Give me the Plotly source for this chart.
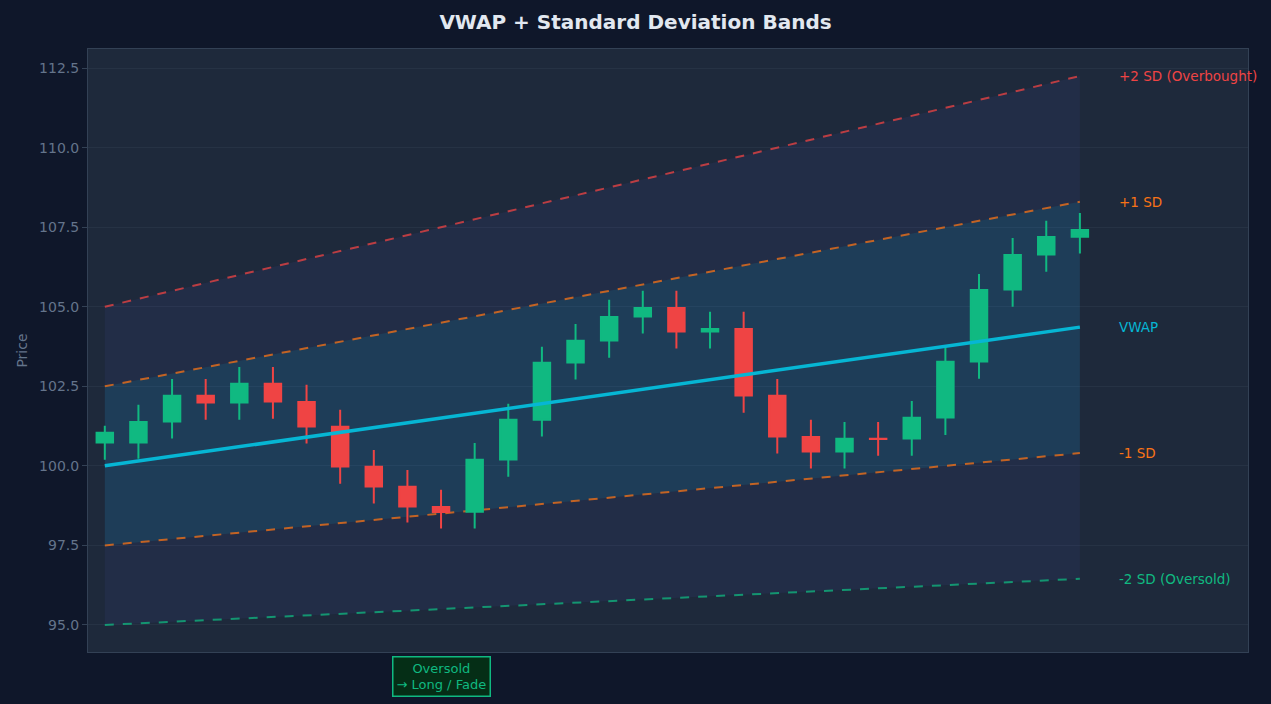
import plotly.graph_objects as go

# candles (bar index 0..29)
bars = list(range(30))
opens = [100.73, 100.73, 101.39, 102.20, 101.99, 102.58, 102.01, 101.23, 99.97, 99.34,
         98.71, 98.56, 100.20, 101.45, 103.25, 103.94, 104.69, 104.96, 104.22, 104.30,
         102.20, 100.91, 100.45, 100.85, 100.86, 101.52, 103.28, 105.54, 106.64, 107.20]
highs = [101.26, 101.92, 102.73, 102.73, 103.11, 103.11, 102.55, 101.76, 100.50, 99.87,
         99.25, 100.72, 101.95, 103.74, 104.46, 105.22, 105.50, 105.50, 104.84, 104.84,
         102.73, 101.45, 101.38, 101.38, 102.04, 103.73, 106.03, 107.16, 107.70, 107.95]
lows = [100.19, 100.22, 100.86, 101.45, 101.45, 101.48, 100.70, 99.44, 98.82, 98.22,
        98.03, 98.03, 99.66, 100.92, 102.71, 103.40, 104.16, 103.69, 103.69, 101.67,
        100.39, 99.92, 99.92, 100.32, 100.32, 100.97, 102.74, 105.00, 106.10, 106.67]
closes = [101.04, 101.38, 102.20, 101.99, 102.58, 102.02, 101.24, 99.98, 99.35, 98.72,
          98.55, 100.19, 101.45, 103.24, 103.93, 104.68, 104.96, 104.22, 104.30, 102.21,
          100.92, 100.45, 100.85, 100.84, 101.51, 103.27, 105.53, 106.63, 107.19, 107.41]

# straight bands: values at first and last bar
band_x = [0, 29]
vwap = [100.00, 104.36]
plus1 = [102.50, 108.30]
plus2 = [105.00, 112.25]
minus1 = [97.50, 100.40]
minus2 = [95.00, 96.45]

GREEN = "#10b981"
RED = "#ef4444"
ORANGE = "#f97316"
CYAN = "#06b6d4"

fig = go.Figure()

# fills (base axes, drawn below the candles)
fig.add_trace(go.Scatter(x=band_x, y=minus2, mode="lines", line=dict(width=0),
                         hoverinfo="skip", showlegend=False))
fig.add_trace(go.Scatter(x=band_x, y=plus2, mode="lines", line=dict(width=0),
                         fill="tonexty", fillcolor="rgba(99,102,241,0.07)",
                         hoverinfo="skip", showlegend=False))
fig.add_trace(go.Scatter(x=band_x, y=minus1, mode="lines", line=dict(width=0),
                         hoverinfo="skip", showlegend=False))
fig.add_trace(go.Scatter(x=band_x, y=plus1, mode="lines", line=dict(width=0),
                         fill="tonexty", fillcolor="rgba(6,182,212,0.12)",
                         hoverinfo="skip", showlegend=False))

# band lines
for ys, col in [(plus2, RED), (plus1, ORANGE), (minus1, ORANGE), (minus2, GREEN)]:
    fig.add_trace(go.Scatter(x=band_x, y=ys, mode="lines", opacity=0.75,
                             line=dict(color=col, width=2, dash="dash"),
                             showlegend=False))

# candles + vwap on an overlay so they sit above the fills
fig.add_trace(go.Candlestick(
    x=bars, open=opens, high=highs, low=lows, close=closes,
    xaxis="x2", yaxis="y2",
    increasing=dict(line=dict(color=GREEN, width=2), fillcolor=GREEN),
    decreasing=dict(line=dict(color=RED, width=2), fillcolor=RED),
    showlegend=False,
))

fig.add_trace(go.Scatter(x=band_x, y=vwap, mode="lines", xaxis="x2", yaxis="y2",
                         line=dict(color=CYAN, width=3.5), showlegend=False))

labels = [
    (plus2[1], "+2 SD (Overbought)", RED),
    (plus1[1], "+1 SD", ORANGE),
    (vwap[1], "VWAP", CYAN),
    (minus1[1], "-1 SD", ORANGE),
    (minus2[1], "-2 SD (Oversold)", GREEN),
]
for y, txt, col in labels:
    fig.add_annotation(x=30.1, y=y, text=txt, showarrow=False, xanchor="left",
                       font=dict(color=col, size=13.5, family="DejaVu Sans"))

fig.add_annotation(x=10, y=-0.04, yref="paper", yanchor="middle",
                   text="Oversold<br>→ Long / Fade", showarrow=False,
                   font=dict(color=GREEN, size=13, family="DejaVu Sans"),
                   bgcolor="#052e16", bordercolor=GREEN, borderwidth=1.5, borderpad=3)

x_range = [-0.5, 34]
y_range = [94.15, 113.1]

fig.update_layout(
    width=1271, height=704,
    title=dict(text="<b>VWAP + Standard Deviation Bands</b>", x=0.5, y=0.969,
               yanchor="middle",
               font=dict(size=20, color="#e2e8f0", family="DejaVu Sans")),
    paper_bgcolor="#0f172a",
    plot_bgcolor="#1e293b",
    margin=dict(l=88, r=23, t=49, b=52),
    font=dict(family="DejaVu Sans", color="#64748b", size=14),
    xaxis=dict(range=x_range, showticklabels=False, showgrid=False, zeroline=False,
               rangeslider=dict(visible=False), showline=True, linecolor="#334155",
               mirror=True),
    yaxis=dict(range=y_range, dtick=2.5, tickformat=".1f", showgrid=True,
               gridcolor="#263244", zeroline=False, showline=True, linecolor="#334155",
               mirror=True, ticks="outside", tickcolor="#334155", ticklen=5,
               title=dict(text="Price", standoff=8, font=dict(size=14, color="#64748b"))),
    xaxis2=dict(overlaying="x", range=x_range, visible=False,
                rangeslider=dict(visible=False)),
    yaxis2=dict(overlaying="y", range=y_range, visible=False),
)

fig.write_html("out.html", config={"displayModeBar": False},
               post_script="document.body.style.margin='0';")
